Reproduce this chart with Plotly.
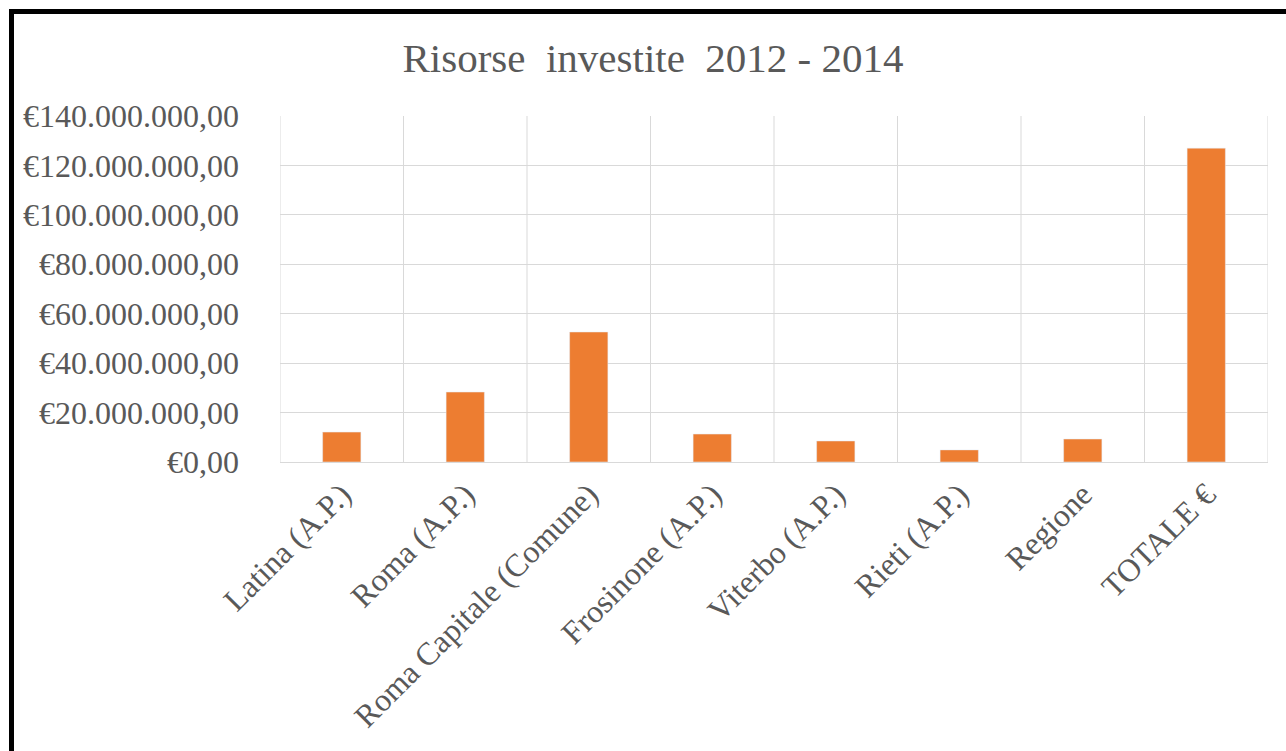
import plotly.graph_objects as go

categories = ["Latina (A.P.)", "Roma (A.P.)", "Roma Capitale (Comune)", "Frosinone (A.P.)",
              "Viterbo (A.P.)", "Rieti (A.P.)", "Regione", "TOTALE €"]
values = [12100000, 28300000, 52600000, 11300000, 8500000, 4900000, 9300000, 127000000]
ytick_vals = [0, 20000000, 40000000, 60000000, 80000000, 100000000, 120000000, 140000000]
ytick_text = ["€0,00", "€20.000.000,00", "€40.000.000,00", "€60.000.000,00",
              "€80.000.000,00", "€100.000.000,00", "€120.000.000,00", "€140.000.000,00"]

W, H = 1286, 751
L, R, T, B = 280, 18, 116, 289
pw, ph = W - L - R, H - T - B

def px_x(x):
    return (x - L) / pw

def px_y(y):
    return (H - B - y) / ph

fig = go.Figure(go.Bar(x=categories, y=values, marker_color="#ED7D31", width=0.31))

font_family = "Liberation Serif, Times New Roman, serif"

fig.update_layout(
    width=W, height=H,
    margin=dict(l=L, r=R, t=T, b=B, autoexpand=False),
    paper_bgcolor="white", plot_bgcolor="white",
    title=dict(text="Risorse  investite  2012 - 2014", x=(403 + 903) / 2 / W, xanchor="center",
               y=1 - 58 / H, yanchor="middle",
               font=dict(family=font_family, size=41, color="#595959")),
    showlegend=False,
)
fig.update_yaxes(range=[0, 140000000], tickvals=ytick_vals, ticktext=ytick_text,
                 showgrid=True, gridcolor="#d9d9d9", gridwidth=1,
                 zeroline=False, showline=False, ticks="",
                 tickfont=dict(family=font_family, size=32, color="#595959"),
                 ticklabelstandoff=40)
fig.update_xaxes(tickangle=-45, showgrid=False, showline=True, linecolor="#d9d9d9", linewidth=1,
                 ticks="", tickfont=dict(family=font_family, size=32, color="#595959"),
                 range=[-0.5, 7.5])

# vertical category-boundary gridlines (Excel style)
for i in range(len(categories) + 1):
    fig.add_shape(type="line", xref="x", yref="paper", x0=i - 0.5, x1=i - 0.5, y0=0, y1=1,
                  line=dict(color="#d9d9d9", width=1), layer="below")

# outer border (left and top)
fig.add_shape(type="line", xref="paper", yref="paper", x0=px_x(11.5), x1=px_x(11.5),
              y0=px_y(9), y1=px_y(H + 5), line=dict(color="black", width=5))
fig.add_shape(type="line", xref="paper", yref="paper", x0=px_x(9), x1=px_x(W + 5),
              y0=px_y(11.5), y1=px_y(11.5), line=dict(color="black", width=5))

fig.write_html("out.html")
